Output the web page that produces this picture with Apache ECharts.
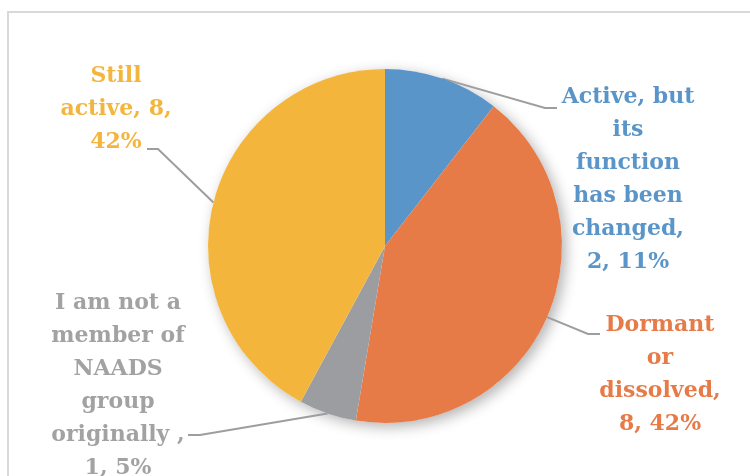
<!DOCTYPE html>
<html>
<head>
<meta charset="utf-8">
<script src="https://cdn.jsdelivr.net/npm/echarts@6/dist/echarts.min.js"></script>
<style>
  html, body { margin: 0; padding: 0; background: #ffffff; }
  #chart { width: 750px; height: 476px; }
</style>
</head>
<body>
<div id="chart"></div>
<script>
// Status of the NAADS groups
const categories = [
  'Active, but\nits\nfunction\nhas been\nchanged',
  'Dormant\nor\ndissolved',
  'I am not a\nmember of\nNAADS\ngroup\noriginally ',
  'Still\nactive'
];
const values = [2, 8, 1, 8];
const sliceColors = ['#5995C9', '#E67B48', '#9C9DA1', '#F4B53D'];
const labelColors = ['#5995C9', '#E67B48', '#A2A2A2', '#F4B53D'];
const labelFormats = [
  '{b},\n{c}, {d}%',
  '{b},\n{c}, {d}%',
  '{b},\n{c}, {d}%',
  '{b}, {c},\n{d}%'
];

// Label block centres and leader-line bend/end points, per slice
const labelPlacement = [
  { x: 628, y: 180, bend: [545, 108], end: [557, 108] },
  { x: 660, y: 375, bend: [588, 334], end: [600, 334] },
  { x: 118, y: 386, bend: [200, 435], end: [188, 435] },
  { x: 116, y: 109, bend: [158, 149], end: [147, 149] }
];

const PIE_CENTER = [385, 246];
const PIE_RADIUS = 177;
const FONT = '"DejaVu Serif", "Liberation Serif", serif';

const total = values.reduce((a, b) => a + b, 0);

const chart = echarts.init(document.getElementById('chart'), null, { renderer: 'canvas' });

chart.setOption({
  backgroundColor: '#ffffff',
  animation: false,
  graphic: [{
    type: 'rect',
    shape: { x: 8, y: 12, width: 800, height: 520 },
    style: { fill: 'none', stroke: '#D9D9D9', lineWidth: 2 },
    silent: true,
    z: -10
  }],
  series: [
    {
      // soft drop shadow under the whole disc
      type: 'pie',
      center: PIE_CENTER,
      radius: PIE_RADIUS,
      silent: true,
      z: 1,
      label: { show: false },
      labelLine: { show: false },
      data: [{ value: total }],
      itemStyle: {
        color: '#ffffff',
        shadowBlur: 14,
        shadowOffsetX: 4,
        shadowOffsetY: 4,
        shadowColor: 'rgba(0,0,0,0.3)'
      }
    },
    {
      type: 'pie',
      center: PIE_CENTER,
      radius: PIE_RADIUS,
      startAngle: 90,
      clockwise: true,
      percentPrecision: 0,
      avoidLabelOverlap: false,
      z: 2,
      itemStyle: { borderWidth: 0 },
      label: {
        show: true,
        position: 'outside',
        fontFamily: FONT,
        fontSize: 22,
        fontWeight: 'bold',
        lineHeight: 33,
        align: 'center',
        width: 220,
        overflow: 'none'
      },
      labelLine: {
        show: true,
        lineStyle: { color: '#9E9E9E', width: 2 }
      },
      labelLayout: function (params) {
        const p = labelPlacement[params.dataIndex];
        const start = params.labelLinePoints ? params.labelLinePoints[0] : p.bend;
        return {
          x: p.x,
          y: p.y,
          align: 'center',
          verticalAlign: 'middle',
          labelLinePoints: [start, p.bend, p.end]
        };
      },
      data: categories.map((name, i) => ({
        name: name,
        value: values[i],
        itemStyle: { color: sliceColors[i] },
        label: { color: labelColors[i], formatter: labelFormats[i] }
      }))
    }
  ]
});
</script>
</body>
</html>
